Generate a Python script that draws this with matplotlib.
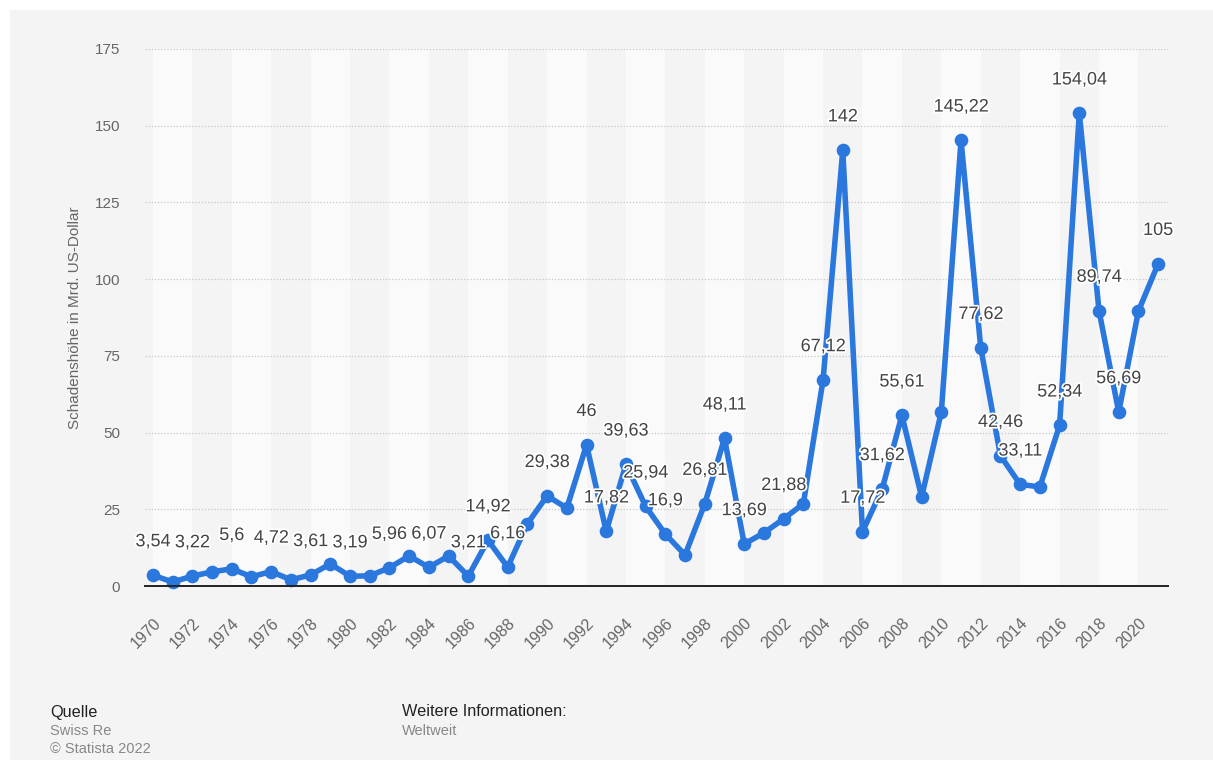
import matplotlib.pyplot as plt
import matplotlib.patheffects as pe
import numpy as np

plt.rcParams['font.family'] = ['Liberation Sans', 'DejaVu Sans']

years = list(range(1970, 2022))
schaden = [3.54, 1.3, 3.22, 4.6, 5.6, 3.0, 4.72, 2.0, 3.61, 7.2,
           3.19, 3.3, 5.96, 9.8, 6.07, 9.8, 3.21, 14.92, 6.16, 20.3,
           29.38, 25.4, 46, 17.82, 39.63, 25.94, 16.9, 10.1, 26.81, 48.11,
           13.69, 17.3, 21.88, 26.8, 67.12, 142, 17.72, 31.62, 55.61, 29.0,
           56.7, 145.22, 77.62, 42.46, 33.11, 32.3, 52.34, 154.04, 89.74, 56.69,
           89.6, 105]
# years whose value is printed above the point
labelled = [1970, 1972, 1974, 1976, 1978, 1980, 1982, 1984, 1986, 1987, 1988,
            1990, 1992, 1993, 1994, 1995, 1996, 1998, 1999, 2000, 2002,
            2004, 2005, 2006, 2007, 2008, 2011, 2012, 2013, 2014, 2016,
            2017, 2018, 2019, 2021]
ylabel = 'Schadenshöhe in Mrd. US-Dollar'

bg = '#f4f4f4'
blue = '#2a77dd'

fig = plt.figure(figsize=(12.13, 7.6), dpi=100)
fig.patch.set_facecolor('white')
fig.patches.append(plt.Rectangle((10 / 1213, 0), 1, 1 - 10 / 760,
                                 transform=fig.transFigure, color=bg, zorder=-10))

ax = fig.add_axes([145 / 1213, 1 - 586 / 760, (1168 - 145) / 1213, (586 - 49) / 760])
ax.set_facecolor(bg)
ax.set_xlim(1969.6, 2021.5)
ax.set_ylim(0, 175)

# alternating column shading
for start in range(1970, 2022, 4):
    ax.axvspan(start, start + 2, color='#fafafa', lw=0, zorder=0)

ax.set_yticks(np.arange(0, 176, 25))
ax.yaxis.grid(True, color='#c8c8c8', linestyle=(0, (1, 1.5)), lw=0.9, zorder=1)
ax.set_axisbelow(True)
for s in ['top', 'right', 'left']:
    ax.spines[s].set_visible(False)
ax.spines['bottom'].set_color('#222222')
ax.spines['bottom'].set_linewidth(1.4)
ax.spines['bottom'].set_zorder(5)

ax.plot(years, schaden, color=blue, lw=4, marker='o', ms=8.8,
        solid_joinstyle='round', zorder=3, clip_on=False)

for yr, val in zip(years, schaden):
    if yr not in labelled:
        continue
    txt = ('%.2f' % val).rstrip('0').rstrip('.').replace('.', ',')
    ax.annotate(txt, (yr, val), xytext=(0, 24), textcoords='offset points',
                ha='center', va='center', fontsize=13, color='#444444', zorder=4,
                path_effects=[pe.withStroke(linewidth=2.5, foreground='white')])

ax.set_xticks(range(1970, 2021, 2))
ax.set_xticklabels([str(y) for y in range(1970, 2021, 2)], rotation=45,
                   ha='right', va='top', rotation_mode='anchor')
ax.tick_params(axis='x', length=0, pad=21, labelsize=11.5, labelcolor='#666666')
ax.tick_params(axis='y', length=0, pad=18, labelsize=11, labelcolor='#666666')
for lbl in ax.get_yticklabels():
    lbl.set_horizontalalignment('right')
ax.set_ylabel(ylabel, fontsize=11, color='#666666')
ax.yaxis.set_label_coords(-(145 - 82) / 1023, 0.5)

fig.text(50 / 1213, 1 - 712 / 760, 'Quelle', fontsize=11.7, color='#222222', va='center')
fig.text(50 / 1213, 1 - 731 / 760, 'Swiss Re', fontsize=10.5, color='#888888', va='center')
fig.text(50 / 1213, 1 - 749 / 760, '© Statista 2022', fontsize=10.5, color='#888888', va='center')
fig.text(402 / 1213, 1 - 712 / 760, 'Weitere Informationen:', fontsize=11.7, color='#222222', va='center')
fig.text(402 / 1213, 1 - 731 / 760, 'Weltweit', fontsize=10.5, color='#888888', va='center')

fig.savefig('out.png', dpi=100, facecolor=fig.get_facecolor())
